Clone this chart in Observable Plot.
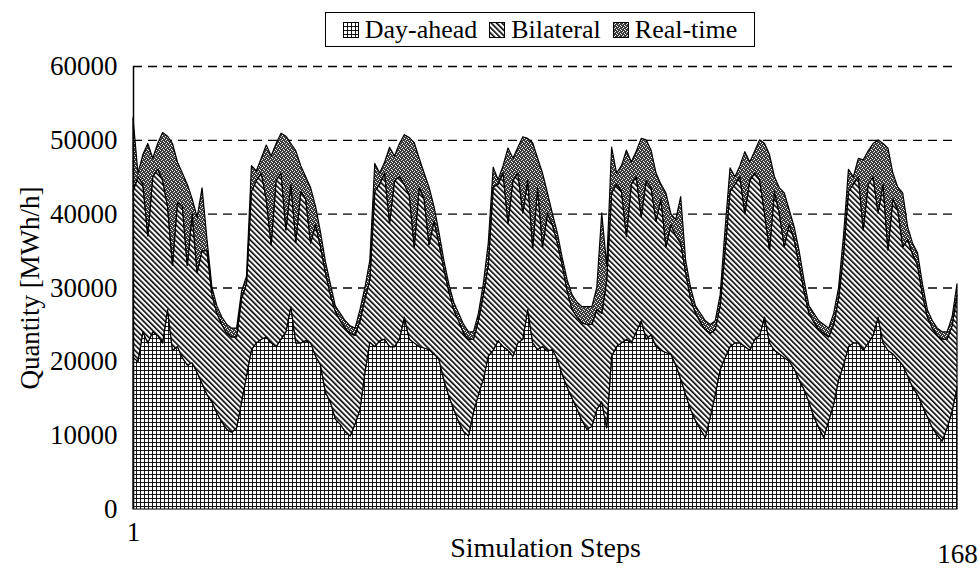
<!DOCTYPE html>
<html>
<head>
<meta charset="utf-8">
<script src="https://cdn.jsdelivr.net/npm/d3@7"></script>
<script src="https://cdn.jsdelivr.net/npm/@observablehq/plot@0.6"></script>
<style>
  html, body { margin: 0; padding: 0; background: #fff; }
  body { font-family: "Liberation Serif", "Times New Roman", serif; color: #000; }
  #wrap { position: relative; width: 980px; height: 571px; overflow: hidden; }
  #legendRow { position: relative; width: 980px; height: 50px; }
  #legend {
    position: absolute; left: 325px; top: 12px; width: 430px; height: 35px;
    box-sizing: border-box; border: 1.5px solid #000;
    display: flex; align-items: center; justify-content: center; gap: 12px;
    font-size: 26px; line-height: 1; white-space: nowrap;
  }
  .item { display: flex; align-items: center; gap: 6px; }
  .item svg { display: block; }
</style>
</head>
<body>
<svg width="0" height="0" style="position:absolute">
  <defs>
    <pattern id="pDA" width="4" height="4" patternUnits="userSpaceOnUse">
      <rect width="4" height="4" fill="#fff"/>
      <path d="M0 0.5H4M0.5 0V4" stroke="#000" stroke-width="0.9"/>
    </pattern>
    <pattern id="pBil" width="3.8" height="3.8" patternUnits="userSpaceOnUse" patternTransform="rotate(-45)">
      <rect width="3.8" height="3.8" fill="#fff"/>
      <rect x="0" y="0" width="1.6" height="3.8" fill="#000"/>
    </pattern>
    <pattern id="pRT" width="4" height="4" patternUnits="userSpaceOnUse">
      <rect width="4" height="4" fill="#3a3a3a"/>
      <rect x="0" y="0" width="1" height="1" fill="#fff"/>
      <rect x="2" y="1" width="1" height="1" fill="#fff"/>
      <rect x="1" y="2" width="1" height="1" fill="#d8d8d8"/>
      <rect x="3" y="3" width="1" height="1" fill="#fff"/>
    </pattern>
  </defs>
</svg>
<div id="wrap">
  <div id="legendRow"><div id="legend"></div></div>
  <div id="chart"></div>
</div>
<script>
// ---------- data ----------
const seriesNames = ["Day-ahead", "Bilateral", "Real-time"];
const patternFills = ["url(#pDA)", "url(#pBil)", "url(#pRT)"];

const dayAhead = [
  20500, 20000, 24000, 22500, 24000, 23500, 22500, 27000, 21500, 22000, 20500, 19500, 19800, 18500, 17000, 15500, 14500, 13000, 11800, 10800, 10400, 11000, 14500, 18000,
  21600, 22500, 23000, 23300, 22500, 22000, 23000, 24000, 27400, 22500, 22500, 22800, 22500, 20700, 19500, 15800, 14500, 12200, 11500, 10500, 9900, 11500, 13500, 18500,
  22600, 22000, 22800, 23000, 22000, 22000, 23000, 26000, 23000, 22500, 22000, 21800, 21600, 21000, 20300, 17500, 15300, 13500, 11800, 10500, 9900, 13100, 15500, 17600,
  20700, 21500, 22800, 22000, 21500, 20700, 22500, 23000, 27000, 22500, 21600, 22000, 21400, 21600, 20300, 18200, 16500, 15000, 13500, 12000, 10800, 11200, 13500, 14500,
  11000, 20700, 22000, 22500, 23000, 22500, 24000, 25500, 23000, 23600, 22000, 21500, 21200, 21000, 19500, 17600, 15500, 13500, 12000, 10800, 9700, 12500, 15500, 18900,
  20500, 22000, 22500, 22500, 22000, 21500, 23000, 23500, 26000, 22500, 21500, 21000, 20500, 20000, 19000, 17500, 16200, 14500, 12500, 11000, 9700, 12000, 14200, 17500,
  19500, 22000, 22500, 22500, 21500, 22500, 23500, 26000, 22500, 21500, 21000, 20300, 19500, 18000, 16500, 15500, 14000, 12500, 11000, 10000, 9200, 11000, 13200, 16500
];

const bilateral = [
  22500, 25000, 20000, 14500, 21000, 22500, 22000, 14000, 11500, 19500, 20500, 13500, 20200, 13500, 18000, 19500, 14500, 13500, 13200, 13000, 12900, 12300, 14000, 12500,
  21400, 22000, 22500, 18700, 13300, 22500, 22500, 13800, 16600, 13700, 20500, 19200, 13500, 17800, 16000, 16200, 14500, 14600, 14000, 14000, 13900, 12000, 12000, 10000,
  8400, 21000, 21200, 22500, 16700, 22500, 22000, 18000, 19500, 13000, 21500, 20200, 14200, 18000, 15700, 15000, 14200, 13500, 13700, 13300, 13100, 9900, 10000, 11400,
  12300, 22100, 21200, 23500, 17200, 23800, 23000, 17100, 17500, 12900, 21900, 13500, 18600, 16900, 15700, 14800, 13000, 12000, 12500, 13200, 14200, 13800, 13500, 12000,
  20000, 22100, 22000, 20500, 13900, 21500, 21000, 14100, 21500, 19900, 17000, 20500, 14300, 17500, 17500, 18400, 16500, 15000, 14500, 14500, 14600, 11300, 8800, 8600,
  14500, 21000, 21500, 22500, 18000, 23000, 22500, 21000, 14000, 12600, 21500, 19000, 15000, 18500, 17500, 15500, 13300, 12000, 12800, 13300, 14100, 11300, 10800, 11000,
  15000, 21000, 21500, 22500, 16300, 21500, 21500, 14100, 21500, 13600, 21000, 20200, 16000, 18500, 18000, 17500, 15000, 13500, 13500, 13500, 13800, 12000, 11600, 12500
];

const realTime = [
  10000, 500, 4000, 12500, 2500, 3500, 6500, 9500, 16500, 5500, 4500, 11000, 2000, 7500, 8500, 1500, 1000, 1000, 1000, 1200, 1200, 1200, 1000, 1000,
  3500, 1300, 2000, 7300, 12000, 5000, 5400, 12700, 5500, 12300, 3500, 3000, 7500, 2500, 2000, 1500, 1500, 700, 1000, 1000, 1000, 1000, 1500, 1500,
  2700, 3800, 1500, 1500, 10300, 3300, 4500, 6700, 7800, 14100, 4000, 3500, 7800, 2000, 1500, 1200, 1000, 1000, 1000, 1200, 1000, 1000, 1000, 1500,
  3000, 2700, 600, 1000, 10200, 3000, 3500, 10300, 5700, 14200, 4000, 10000, 2800, 1500, 1400, 1000, 1500, 2000, 2000, 2200, 2400, 2400, 3000, 13600,
  2000, 6200, 1500, 3500, 11700, 3000, 3500, 10600, 5500, 5100, 6500, 2000, 7300, 1500, 2200, 6300, 1700, 1500, 1000, 1200, 1200, 1200, 1200, 1500,
  3000, 3200, 1000, 1500, 8400, 2500, 3000, 5500, 9500, 12900, 2000, 3500, 7300, 2000, 1700, 2000, 1500, 1000, 1200, 1200, 1200, 1200, 1500, 1500,
  2500, 3000, 1000, 2500, 9500, 4500, 4500, 9900, 5500, 13800, 3500, 3100, 7300, 1700, 1500, 1700, 1500, 1000, 1000, 1000, 1000, 1000, 1200, 1500
];

const steps = d3.range(1, dayAhead.length + 1);     // 1 … 168
const yTicks = [0, 10000, 20000, 30000, 40000, 50000, 60000];
const gridTicks = [10000, 20000, 30000, 40000, 50000, 60000];
const xTickLabels = [1, 168];
const xTitle = "Simulation Steps";
const yTitle = "Quantity [MWh/h]";

// ---------- long table for Plot ----------
const seriesValues = [dayAhead, bilateral, realTime];
const table = [];
seriesNames.forEach((name, i) => {
  steps.forEach((s, j) => table.push({ step: s, series: name, value: seriesValues[i][j] }));
});

// ---------- legend ----------
const legend = document.getElementById("legend");
seriesNames.forEach((name, i) => {
  const item = document.createElement("div");
  item.className = "item";
  item.innerHTML = `<svg width="16" height="16"><rect x="0.5" y="0.5" width="15" height="15" fill="${patternFills[i]}" stroke="#000" stroke-width="1"/></svg><span>${name}</span>`;
  legend.appendChild(item);
});

// ---------- chart ----------
const fontStack = '"Liberation Serif", "Times New Roman", serif';
const chart = Plot.plot({
  width: 980,
  height: 521,
  marginLeft: 133,
  marginRight: 23,
  marginTop: 16,
  marginBottom: 62,
  style: { fontFamily: fontStack, fontSize: "27px", color: "#000", background: "#fff", overflow: "visible" },
  x: { domain: [steps[0], steps[steps.length - 1]] },
  y: { domain: [yTicks[0], yTicks[yTicks.length - 1]] },
  color: { domain: seriesNames, range: patternFills },
  marks: [
    Plot.ruleY(gridTicks, { stroke: "#000", strokeWidth: 1.4, strokeDasharray: "9,6" }),
    Plot.areaY(table, { x: "step", y: "value", z: "series", fill: "series", order: seriesNames, stroke: "#000", strokeWidth: 1.2 }),
    Plot.ruleX([steps[0]], { stroke: "#000", strokeWidth: 1.5 }),
    Plot.axisY(yTicks, { tickSize: 0, tickPadding: 16, tickFormat: d3.format("d"), label: null, fontSize: 27 }),
    Plot.axisX([xTickLabels[0]], { tickSize: 0, tickPadding: 12, label: null, fontSize: 27 }),
    Plot.axisX([xTickLabels[1]], { tickSize: 0, tickPadding: 34, label: null, fontSize: 27 }),
    Plot.text([xTitle], { frameAnchor: "bottom", textAnchor: "middle", lineAnchor: "middle", dy: 39, fontSize: 28 }),
    Plot.text([yTitle], { frameAnchor: "left", textAnchor: "middle", lineAnchor: "middle", rotate: -90, dx: -103, fontSize: 27 })
  ]
});
document.getElementById("chart").appendChild(chart);
</script>
</body>
</html>
